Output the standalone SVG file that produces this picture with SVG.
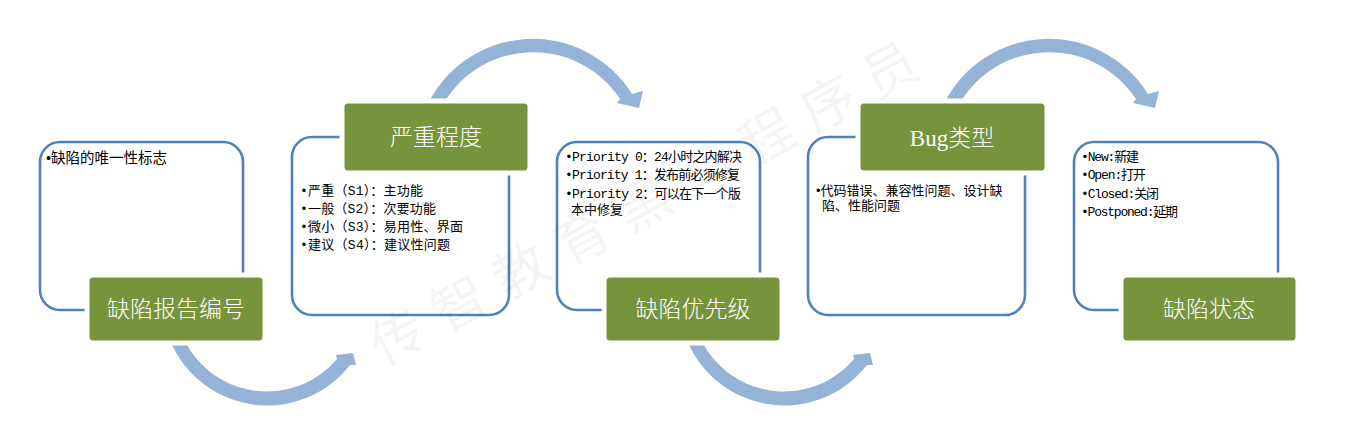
<svg xmlns="http://www.w3.org/2000/svg" width="1352" height="448" viewBox="0 0 1352 448">
<defs>
<style>
.frame{fill:none;stroke:#4F81BD;stroke-width:2.6}
.head{fill:#77933C;stroke:#ffffff;stroke-width:5}
.htxt{fill:#ffffff;font-family:"Noto Sans CJK SC",sans-serif;font-size:23px;font-weight:300;text-anchor:middle}
.btxt{fill:#000000;font-family:"Liberation Sans","Noto Sans CJK SC",sans-serif;font-size:13px}
.mtxt{fill:#000000;font-family:"Liberation Mono","Noto Sans CJK SC",monospace;font-size:13px}
.arr{fill:#95B3D7}
.wm{fill:#000000;fill-opacity:0.045;font-family:"Noto Sans CJK SC",sans-serif;font-size:54px;letter-spacing:16px;text-anchor:middle;dominant-baseline:central}
</style>
<path id="arcTop" d="M 425,110 A 117 117 0 0 1 632,94 L 643,91 L 639,108 L 617,103 L 620,99 A 104 104 0 0 0 440,110 Z"/>
<path id="arcBottom" d="M 168,335 A 105 105 0 0 0 350,365 L 356,365 L 353,353 L 336,355 L 337,359 A 92 92 0 0 1 182,335 Z"/>
</defs>
<rect width="1352" height="448" fill="#ffffff"/>
<g id="connectors">
<use href="#arcBottom" class="arr"/>
<use href="#arcTop" class="arr"/>
<use href="#arcBottom" class="arr" transform="translate(517,0)"/>
<use href="#arcTop" class="arr" transform="translate(516,0)"/>
</g>
<g id="node1">
<rect class="frame" x="40" y="142" width="203" height="168" rx="20"/>
<text class="btxt" x="46" y="163" style="font-size:14.5px">•缺陷的唯一性标志</text>
<rect class="head" x="87" y="275" width="178" height="68" rx="6"/>
<text class="htxt" x="176" y="317">缺陷报告编号</text>
</g>
<g id="node2">
<rect class="frame" x="292" y="137" width="217" height="178" rx="20"/>
<text class="mtxt" x="300" y="195" textLength="123" lengthAdjust="spacing">•严重（S1）：主功能</text>
<text class="mtxt" x="300" y="213" textLength="136" lengthAdjust="spacing">•一般（S2）：次要功能</text>
<text class="mtxt" x="300" y="231" textLength="163" lengthAdjust="spacing">•微小（S3）：易用性、界面</text>
<text class="mtxt" x="300" y="249" textLength="150" lengthAdjust="spacing">•建议（S4）：建议性问题</text>
<rect class="head" x="342" y="101" width="188" height="72" rx="6"/>
<text class="htxt" x="436" y="145">严重程度</text>
</g>
<g id="node3">
<rect class="frame" x="557" y="142" width="203" height="168" rx="20"/>
<text class="mtxt" x="565" y="161" textLength="177" lengthAdjust="spacing">•Priority 0：24小时之内解决</text>
<text class="mtxt" x="565" y="179" textLength="175" lengthAdjust="spacing">•Priority 1：发布前必须修复</text>
<text class="mtxt" x="565" y="198" textLength="176" lengthAdjust="spacing">•Priority 2：可以在下一个版</text>
<text class="mtxt" x="571" y="214">本中修复</text>
<rect class="head" x="604" y="275" width="178" height="68" rx="6"/>
<text class="htxt" x="693" y="317">缺陷优先级</text>
</g>
<g id="node4">
<rect class="frame" x="808" y="137" width="217" height="178" rx="20"/>
<text class="btxt" x="816" y="195">•代码错误、兼容性问题、设计缺</text>
<text class="btxt" x="822" y="210">陷、性能问题</text>
<rect class="head" x="858" y="101" width="189" height="72" rx="6"/>
<text class="htxt" x="952" y="146" style="font-family:'Liberation Serif','Noto Sans CJK SC',serif">Bug类型</text>
</g>
<g id="node5">
<rect class="frame" x="1074" y="142" width="204" height="168" rx="20"/>
<text class="mtxt" x="1081" y="161" textLength="58" lengthAdjust="spacing">•New:新建</text>
<text class="mtxt" x="1081" y="179" textLength="65" lengthAdjust="spacing">•Open:打开</text>
<text class="mtxt" x="1081" y="198" textLength="78" lengthAdjust="spacing">•Closed:关闭</text>
<text class="mtxt" x="1081" y="216" textLength="97" lengthAdjust="spacing">•Postponed:延期</text>
<rect class="head" x="1121" y="275" width="177" height="68" rx="6"/>
<text class="htxt" x="1209" y="317">缺陷状态</text>
</g>
<g id="watermark" transform="rotate(-28.5 642 200)">
<text class="wm" x="650" y="200">传智教育黑马程序员</text>
</g>
</svg>
